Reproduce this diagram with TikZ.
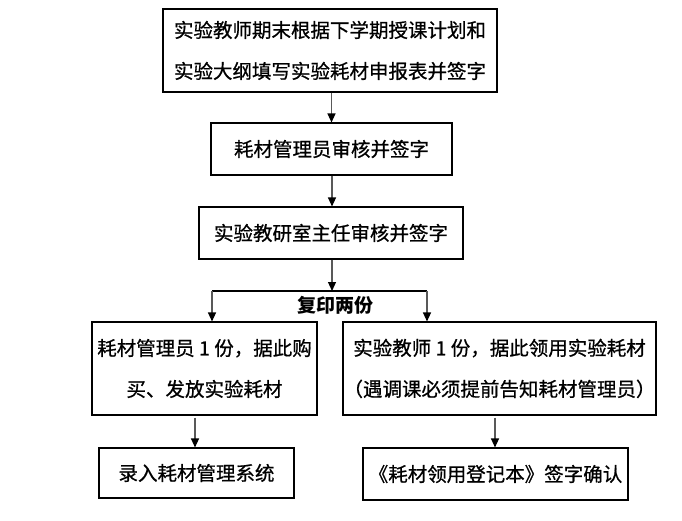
\documentclass[tikz,border=0pt]{standalone}
\usepackage{fontspec}
\newfontfamily\cjk{Noto Sans CJK SC}[FakeBold=0.8]
\newfontfamily\cjkhead{Noto Sans CJK SC}
\usetikzlibrary{arrows.meta,calc,positioning}

\begin{document}
\begin{tikzpicture}[
        x=1pt, y=-1pt,
        box/.style={draw, line width=1.1pt, inner sep=0pt, align=center,
            font={\cjk\fontsize{19.5pt}{41pt}\selectfont}},
        pile/.style={draw=gray!70!black, line width=1.2pt,
            -{Triangle[black, width=8pt, length=9pt]}},
        every node/.style={color=black}
    ]
    \useasboundingbox (0,0) rectangle (682,521);
    % steps
    \node[box, minimum width=334pt, minimum height=83pt] (plan) at (330,50.5)
        {实验教师期末根据下学期授课计划和\\实验大纲填写实验耗材申报表并签字};
    \node[box, minimum width=241pt, minimum height=52pt] (keeper) at (331.5,149)
        {耗材管理员审核并签字};
    \node[box, minimum width=264pt, minimum height=52pt] (head) at (331,233)
        {实验教研室主任审核并签字};
    \node[box, minimum width=225pt, minimum height=93pt] (buy) at (204.5,368.5)
        {耗材管理员 1 份，据此购\\买、发放实验耗材};
    \node[box, minimum width=313pt, minimum height=93pt] (use) at (499.5,368.5)
        {实验教师 1 份，据此领用实验耗材\\（遇调课必须提前告知耗材管理员）};
    \node[box, minimum width=195pt, minimum height=50pt] (record) at (196.5,473)
        {录入耗材管理系统};
    \node[box, minimum width=265pt, minimum height=52pt] (sign) at (495.5,474)
        {《耗材领用登记本》签字确认};
    % copies
    \coordinate (split) at (332,291);
    \coordinate (lsplit) at (212,291);
    \coordinate (rsplit) at (427,291);
    \node (copies) at (335,305) {\cjkhead\bfseries\fontsize{19pt}{20pt}\selectfont 复印两份};
    % arrows
    \draw[pile] (plan.south -| keeper.north) -- (keeper.north);
    \draw[pile] (keeper.south -| split) -- (head.north -| split);
    \draw[pile] (head.south -| split) -- (split);
    \draw[line width=1.2pt] (lsplit) -- (rsplit);
    \draw[pile] (lsplit) -- (lsplit |- buy.north);
    \draw[pile] (rsplit) -- (rsplit |- use.north);
    \draw[pile] ($(buy.south)+(-9.5,2)$) -- ($(buy.south |- record.north)+(-9.5,0)$);
    \draw[pile] ($(use.south)+(-4.5,2)$) -- ($(use.south |- sign.north)+(-4.5,0)$);
\end{tikzpicture}
\end{document}
